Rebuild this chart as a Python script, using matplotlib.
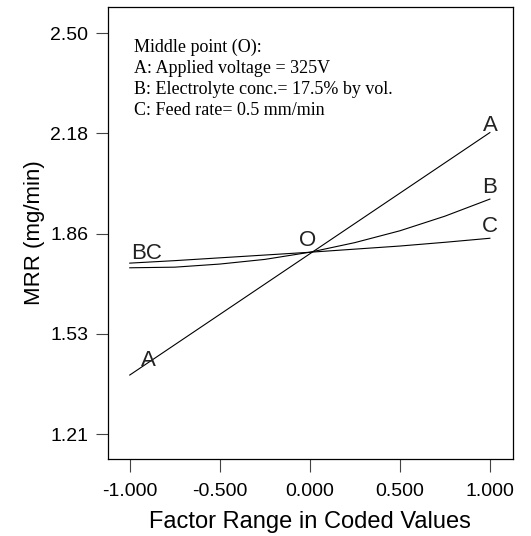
import matplotlib
matplotlib.use("Agg")
import matplotlib.pyplot as plt
import numpy as np

# coded factor levels
x_pts = [-1.0, -0.75, -0.5, -0.25, 0.0, 0.25, 0.5, 0.75, 1.0]
mrr_A = [1.40, 1.4975, 1.595, 1.6925, 1.79, 1.8875, 1.985, 2.0825, 2.18]
mrr_B = [1.745, 1.747, 1.757, 1.772, 1.795, 1.826, 1.864, 1.911, 1.966]
mrr_C = [1.760, 1.768, 1.777, 1.786, 1.795, 1.805, 1.815, 1.827, 1.840]

y_ticks = [1.21, 1.5325, 1.855, 2.1775, 2.50]
y_ticklabels = ["1.21", "1.53", "1.86", "2.18", "2.50"]
x_ticks = [-1.0, -0.5, 0.0, 0.5, 1.0]

note = ("Middle point (O):\n"
        "A: Applied voltage = 325V\n"
        "B: Electrolyte conc.= 17.5% by vol.\n"
        "C: Feed rate= 0.5 mm/min")

plt.rcParams['font.family'] = ['Liberation Sans', 'DejaVu Sans']

fig = plt.figure(figsize=(5.31, 5.36), dpi=100)
ax = fig.add_axes([0.203, 0.1437, 0.763, 0.8433])

for ys in (mrr_A, mrr_B, mrr_C):
    ax.plot(x_pts, ys, color='black', lw=0.8)

ax.set_xlim(-1.122, 1.128)
ax.set_ylim(1.13, 2.584)
ax.set_xticks(x_ticks)
ax.set_xticklabels(["%.3f" % v for v in x_ticks])
ax.set_yticks(y_ticks)
ax.set_yticklabels(y_ticklabels)
ax.tick_params(direction='out', length=9, width=0.8, color='#444444',
               labelsize=14, pad=5)
ax.tick_params(axis='x', pad=8)
for s in ax.spines.values():
    s.set_linewidth(0.9)

ax.set_xlabel("Factor Range in Coded Values", fontsize=17, labelpad=8)
ax.set_ylabel("MRR (mg/min)", fontsize=16, labelpad=4)

# curve labels
lab = dict(fontsize=16, color='#222222')
ax.text(-0.895, 1.448, "A", ha='center', va='center', **lab)
ax.text(-0.905, 1.79, "BC", ha='center', va='center', **lab)
ax.text(1.0, 2.204, "A", ha='center', va='center', **lab)
ax.text(1.0, 2.004, "B", ha='center', va='center', **lab)
ax.text(1.0, 1.879, "C", ha='center', va='center', **lab)
ax.text(-0.01, 1.834, "O", ha='center', va='center', **lab)

ax.text(0.064, 0.93, note, transform=ax.transAxes, ha='left', va='top',
        fontsize=13, family='Liberation Serif', linespacing=1.3)

fig.savefig("out.png", dpi=100)
